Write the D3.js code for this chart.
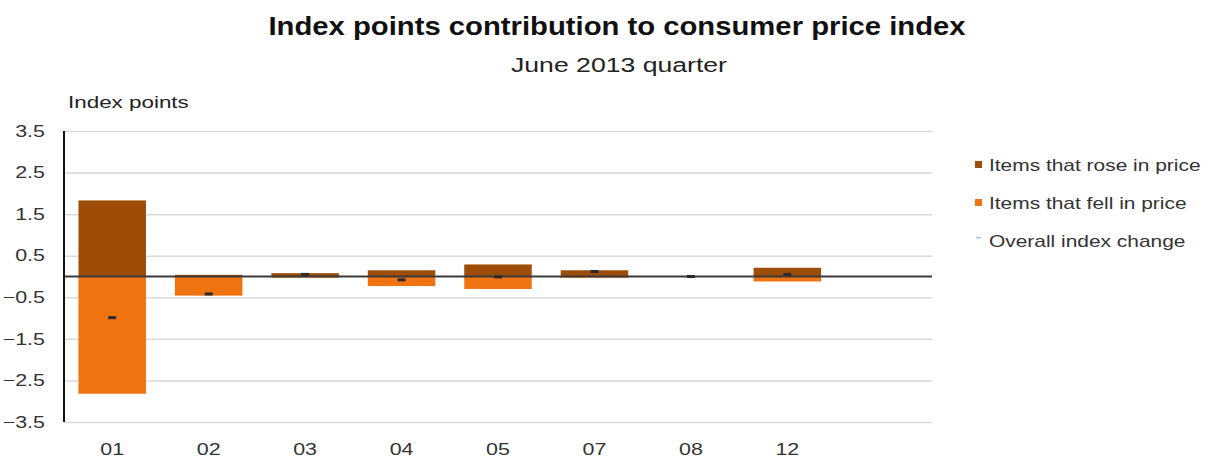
<!DOCTYPE html>
<html>
<head>
<meta charset="utf-8">
<script src="https://cdn.jsdelivr.net/npm/d3@7"></script>
<style>
  html, body { margin: 0; padding: 0; background: #fff; }
  svg { display: block; font-family: "Liberation Sans", Arial, sans-serif; }
</style>
</head>
<body>
<svg id="chart" width="1210" height="461"></svg>
<script>
// CPI groups (by group code) and their contributions, in index points
const categories = ["01", "02", "03", "04", "05", "07", "08", "12"];
const roseValues = [1.83, 0.04, 0.08, 0.15, 0.29, 0.15, 0.01, 0.21];
const fellValues = [-2.82, -0.46, -0.03, -0.23, -0.30, -0.03, -0.01, -0.12];
const overallValues = [-0.99, -0.42, 0.05, -0.08, -0.01, 0.12, 0.00, 0.05];
const yTicks = [3.5, 2.5, 1.5, 0.5, -0.5, -1.5, -2.5, -3.5];

const seriesNames = ["Items that rose in price", "Items that fell in price", "Overall index change"];
const colors = { rose: "#9e4d08", fell: "#f07312", overall: "#2b2b2b", legendLine: "#9ec5e8" };

const svg = d3.select("#chart");
const plot = { left: 64, right: 932, top: 131, bottom: 422 };

// widen glyphs horizontally by factor k (wide-set lettering)
function widen(sel, k) {
  sel.each(function () {
    const w = this.getComputedTextLength();
    d3.select(this).attr("textLength", w * k).attr("lengthAdjust", "spacingAndGlyphs");
  });
  return sel;
}

// an empty slot after the last group leaves room on the right of the plot
const slots = categories.concat([" "]);
const x = d3.scaleBand().domain(slots).range([plot.left, plot.right])
  .paddingInner(0.3).paddingOuter(0.15);
const y = d3.scaleLinear().domain([-3.5, 3.5]).range([plot.bottom, plot.top]);

// titles
widen(svg.append("text").attr("x", 617).attr("y", 35).attr("text-anchor", "middle")
  .attr("font-size", 25).attr("font-weight", "bold").attr("fill", "#111")
  .text("Index points contribution to consumer price index"), 1.17);
widen(svg.append("text").attr("x", 619).attr("y", 72).attr("text-anchor", "middle")
  .attr("font-size", 20).attr("fill", "#222")
  .text("June 2013 quarter"), 1.33);
widen(svg.append("text").attr("x", 68).attr("y", 108)
  .attr("font-size", 16).attr("fill", "#222")
  .text("Index points"), 1.4);

// horizontal gridlines and y labels
const yAxis = d3.axisLeft(y).tickValues(yTicks).tickFormat(d3.format(".1f"))
  .tickSize(-(plot.right - plot.left)).tickPadding(19);
const gy = svg.append("g").attr("transform", `translate(${plot.left},0)`).call(yAxis);
gy.select(".domain").remove();
gy.selectAll(".tick line").attr("stroke", "#d9d9d9").attr("stroke-width", 1.5);
widen(gy.selectAll(".tick text").attr("font-size", 16.5).attr("fill", "#333")
  .attr("font-family", "Liberation Sans, Arial, sans-serif"), 1.3);

// bars: rises above zero, falls below
const bars = svg.append("g");
bars.selectAll("rect.rose").data(categories).join("rect").attr("class", "rose")
  .attr("x", d => x(d)).attr("width", x.bandwidth())
  .attr("y", (d, i) => y(Math.max(0, roseValues[i])))
  .attr("height", (d, i) => Math.abs(y(roseValues[i]) - y(0)))
  .attr("fill", colors.rose);
bars.selectAll("rect.fell").data(categories).join("rect").attr("class", "fell")
  .attr("x", d => x(d)).attr("width", x.bandwidth())
  .attr("y", y(0))
  .attr("height", (d, i) => Math.abs(y(fellValues[i]) - y(0)))
  .attr("fill", colors.fell);

// zero line
svg.append("line").attr("x1", plot.left).attr("x2", plot.right)
  .attr("y1", y(0)).attr("y2", y(0)).attr("stroke", "#3a3a3a").attr("stroke-width", 2);

// left axis line
svg.append("line").attr("x1", plot.left).attr("x2", plot.left)
  .attr("y1", plot.top).attr("y2", plot.bottom).attr("stroke", "#111").attr("stroke-width", 2);

// overall index change markers
svg.append("g").selectAll("rect").data(categories).join("rect")
  .attr("x", d => x(d) + x.bandwidth() / 2 - 4).attr("width", 8)
  .attr("y", (d, i) => y(overallValues[i]) - 1.5).attr("height", 3)
  .attr("fill", colors.overall);

// category labels
const xAxis = d3.axisBottom(x).tickSize(0).tickPadding(21).tickFormat(d => d.trim());
const gx = svg.append("g").attr("transform", `translate(0,${plot.bottom})`).call(xAxis);
gx.select(".domain").remove();
widen(gx.selectAll(".tick text").attr("font-size", 16.5).attr("fill", "#333")
  .attr("font-family", "Liberation Sans, Arial, sans-serif"), 1.3);

// legend
const legend = svg.append("g").attr("transform", "translate(975,0)");
const legendRows = [
  { name: seriesNames[0], color: colors.rose, kind: "box" },
  { name: seriesNames[1], color: colors.fell, kind: "box" },
  { name: seriesNames[2], color: colors.legendLine, kind: "line" }
];
legendRows.forEach((r, i) => {
  const cy = 165 + i * 38;
  if (r.kind === "box") {
    legend.append("rect").attr("x", 0).attr("y", cy - 4).attr("width", 7).attr("height", 7).attr("fill", r.color);
  } else {
    legend.append("rect").attr("x", 1).attr("y", cy - 4).attr("width", 5).attr("height", 1.5).attr("fill", r.color);
  }
  widen(legend.append("text").attr("x", 14).attr("y", cy + 6)
    .attr("font-size", 17).attr("fill", "#333").text(r.name), 1.23);
});
</script>
</body>
</html>
